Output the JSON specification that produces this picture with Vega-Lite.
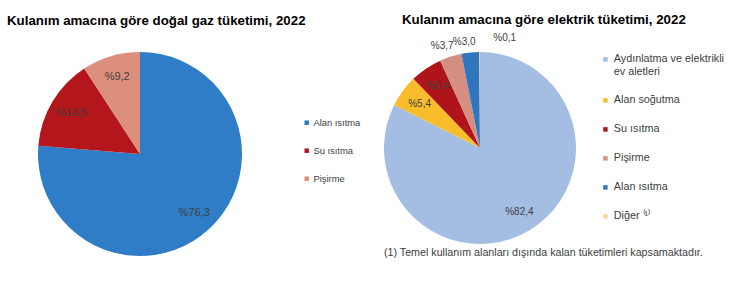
{
  "$schema": "https://vega.github.io/schema/vega-lite/v6.json",
  "background": "white",
  "padding": {"left": 7, "top": 12, "right": 0, "bottom": 0},
  "config": {
    "view": {"stroke": null},
    "font": "Liberation Sans",
    "concat": {"spacing": 23},
    "legend": {"padding": 0}
  },
  "resolve": {"scale": {"color": "independent", "theta": "independent"}, "legend": {"color": "independent"}},
  "hconcat": [
    {
      "title": {"text": "Kulanım amacına göre doğal gaz tüketimi, 2022", "anchor": "start", "dx": -31, "fontSize": 13.3, "fontWeight": "bold", "color": "#000000", "font": "Liberation Sans", "offset": 25},
      "width": 204,
      "height": 204,
      "data": {"values": [
        {"kategori": "Alan ısıtma", "pay": 76.3, "etiket": "%76,3", "sira": 1},
        {"kategori": "Su ısıtma", "pay": 14.5, "etiket": "%14,5", "sira": 2},
        {"kategori": "Pişirme", "pay": 9.2, "etiket": "%9,2", "sira": 3}
      ]},
      "encoding": {
        "theta": {"field": "pay", "type": "quantitative", "stack": true},
        "order": {"field": "sira", "type": "quantitative"}
      },
      "layer": [
        {
          "mark": {"type": "arc"},
          "encoding": {
            "color": {
              "field": "kategori", "type": "nominal",
              "scale": {"domain": ["Alan ısıtma", "Su ısıtma", "Pişirme"], "range": ["#2E7DC6", "#B3161B", "#DB8F7C"]},
              "legend": {"title": null, "orient": "none", "legendX": 264, "legendY": 66, "symbolType": "square", "symbolSize": 20, "symbolStrokeWidth": 0, "labelFontSize": 9.4, "labelColor": "#404040", "labelFont": "Liberation Sans", "rowPadding": 17, "labelOffset": 2}
            }
          }
        },
        {
          "mark": {"type": "text", "radius": 80, "fontSize": 11, "font": "Liberation Sans"},
          "encoding": {
            "text": {"field": "etiket"},
            "color": {"value": "#404040"}
          }
        }
      ]
    },
    {
      "title": {"text": "Kulanım amacına göre elektrik tüketimi, 2022", "anchor": "start", "dx": 18, "fontSize": 13.3, "fontWeight": "bold", "color": "#000000", "font": "Liberation Sans", "offset": 7},
      "vconcat": [
        {
          "title": {"text": "(1) Temel kullanım alanları dışında kalan tüketimleri kapsamaktadır.", "orient": "bottom", "anchor": "start", "dx": 0, "fontSize": 10.7, "fontWeight": "normal", "color": "#404040", "font": "Liberation Sans", "offset": 4},
          "width": 192,
          "height": 192,
          "data": {"values": [
            {"kategori": "Aydınlatma ve elektrikli ev aletleri", "pay": 82.4, "etiket": "%82,4", "sira": 1},
            {"kategori": "Alan soğutma", "pay": 5.4, "etiket": "%5,4", "sira": 2},
            {"kategori": "Su ısıtma", "pay": 5.4, "etiket": "%5,4", "sira": 3},
            {"kategori": "Pişirme", "pay": 3.7, "etiket": "%3,7", "sira": 4},
            {"kategori": "Alan ısıtma", "pay": 3.0, "etiket": "%3,0", "sira": 5},
            {"kategori": "Diğer", "pay": 0.1, "etiket": "%0,1", "sira": 6}
          ]},
          "encoding": {
            "theta": {"field": "pay", "type": "quantitative", "stack": true},
            "order": {"field": "sira", "type": "quantitative"}
          },
          "layer": [
            {
              "mark": {"type": "arc"},
              "encoding": {
                "color": {
                  "field": "kategori", "type": "nominal",
                  "scale": {"domain": ["Aydınlatma ve elektrikli ev aletleri", "Alan soğutma", "Su ısıtma", "Pişirme", "Alan ısıtma", "Diğer"], "range": ["#A3BDE3", "#F9BD2C", "#AE1419", "#D48F80", "#2E77C0", "#FCD99A"]},
                  "legend": {"title": null, "orient": "none", "legendX": 216, "legendY": 2, "symbolType": "square", "symbolSize": 20, "symbolStrokeWidth": 0, "labelFontSize": 10.8, "labelColor": "#404040", "labelFont": "Liberation Sans", "rowPadding": 17, "labelOffset": 3, "labelLimit": 300,
                    "labelExpr": "datum.label == 'Aydınlatma ve elektrikli ev aletleri' ? ['Aydınlatma ve elektrikli', 'ev aletleri'] : datum.label == 'Diğer' ? 'Diğer ⁽¹⁾' : datum.label",
                    "labelBaseline": "top",
                    "encode": {"labels": {"update": {"dy": {"value": -6}, "lineHeight": {"value": 12.5}}}}
                  }
                }
              }
            },
            {
              "mark": {"type": "text", "radius": 75, "fontSize": 10, "font": "Liberation Sans"},
              "encoding": {
                "text": {"condition": {"test": "datum.pay > 5", "field": "etiket"}, "value": ""},
                "color": {"value": "#404040"}
              }
            },
            {
              "mark": {"type": "text", "radius": 107, "dx": -5, "fontSize": 10, "font": "Liberation Sans"},
              "encoding": {
                "text": {"condition": {"test": "datum.pay > 1 && datum.pay < 5", "field": "etiket"}, "value": ""},
                "color": {"value": "#404040"}
              }
            },
            {
              "mark": {"type": "text", "radius": 107, "dx": 25, "dy": -3, "fontSize": 10, "font": "Liberation Sans"},
              "encoding": {
                "text": {"condition": {"test": "datum.pay < 1", "field": "etiket"}, "value": ""},
                "color": {"value": "#404040"}
              }
            }
          ]
        }
      ]
    }
  ]
}
